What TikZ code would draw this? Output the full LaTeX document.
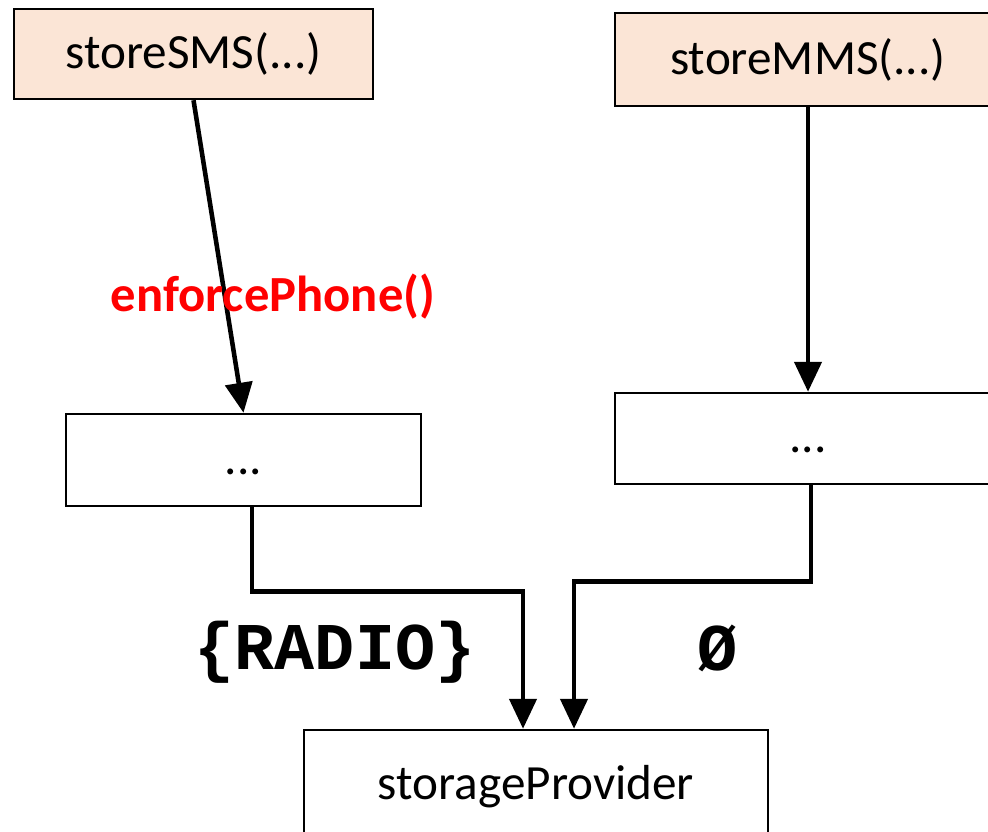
\documentclass[tikz,border=0pt]{standalone}
\usepackage{fontspec}
\setmainfont{Carlito}
\newfontfamily\codefont{Liberation Mono}
\usetikzlibrary{arrows.meta, positioning}

\definecolor{peach}{HTML}{FBE5D6}

\tikzset{
  callbox/.style={draw, line width=0.7pt, fill=peach, inner sep=0pt, font=\fontsize{14}{16}\selectfont},
  plainbox/.style={draw, line width=0.7pt, fill=white, inner sep=0pt, font=\fontsize{14}{16}\selectfont},
  dotsbox/.style={plainbox, text height=0.28cm, text depth=0pt},
  flow/.style={line width=1.3pt, -{Triangle[length=3mm, width=2.7mm]}}
}

\begin{document}
\begin{tikzpicture}
    \useasboundingbox (0,0) rectangle (9.88,-8.32);
    \clip (0,0) rectangle (9.88,-8.32);

    % Entry points
    \node[callbox, minimum width=3.59cm, minimum height=0.9cm] (sms) at (1.935,-0.54) {storeSMS(...)};
    \node[callbox, minimum width=3.86cm, minimum height=0.93cm] (mms) at (8.08,-0.595) {storeMMS(...)};

    % Intermediate code
    \node[dotsbox, minimum width=3.55cm, minimum height=0.92cm] (smsbody) at (2.435,-4.6) {...};
    \node[dotsbox, minimum width=3.86cm, minimum height=0.91cm] (mmsbody) at (8.08,-4.385) {...};

    % Sink
    \node[plainbox, minimum width=4.64cm, minimum height=1.14cm] (provider) at (5.36,-7.87) {storageProvider};

    % Calls
    \draw[flow] (sms.south) -- (smsbody.north);
    \draw[flow] (mms.south) -- (mmsbody.north);
    \draw[flow] ([xshift=0.085cm]smsbody.south) -- ++(0,-0.84) -| ([xshift=-0.13cm]provider.north);
    \draw[flow] ([xshift=0.03cm]mmsbody.south) -- ++(0,-0.96) -| ([xshift=0.38cm]provider.north);

    % Labels
    \node[red, font=\fontsize{14.4}{16}\selectfont\bfseries] (check) at (2.73,-2.97) {enforcePhone()};
    \node[font=\fontsize{19}{22}\selectfont\codefont\bfseries] (perms) at (3.35,-6.52) {\{RADIO\}};
    \node[font=\fontsize{19}{22}\selectfont\codefont\bfseries] (noperms) at (7.18,-6.48) {Ø};
\end{tikzpicture}
\end{document}
